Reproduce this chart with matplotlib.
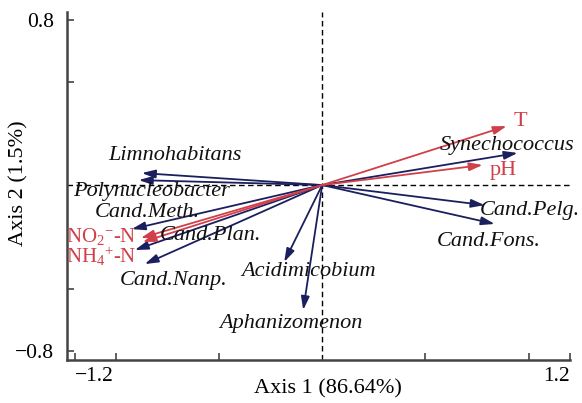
import matplotlib.pyplot as plt
import numpy as np

plt.rcParams['font.family'] = ['Liberation Serif', 'DejaVu Serif']
plt.rcParams['mathtext.fontset'] = 'custom'
plt.rcParams['mathtext.rm'] = 'Liberation Serif'
plt.rcParams['mathtext.it'] = 'Liberation Serif:italic'

# species scores (axis 1, axis 2)
species = ['Synechococcus', 'Cand.Pelg.', 'Cand.Fons.', 'Limnohabitans',
           'Polynucleobacter', 'Cand.Meth.', 'Cand.Plan.', 'Cand.Nanp.',
           'Acidimicobium', 'Aphanizomenon']
sp_x = [0.947, 0.787, 0.836, -0.874, -0.889, -0.923, -0.908, -0.860, -0.184, -0.092]
sp_y = [0.155, -0.097, -0.188, 0.058, 0.024, -0.213, -0.314, -0.382, -0.372, -0.604]

# environmental factors
env = ['T', 'pH', 'NO$_2$$^{-}$-N', 'NH$_4$$^{+}$-N']
env_x = [0.894, 0.778, -0.879, -0.870]
env_y = [0.285, 0.097, -0.256, -0.275]

# label positions (centre of text)
sp_lab = {'Synechococcus': (0.894, 0.193), 'Cand.Pelg.': (1.005, -0.121),
          'Cand.Fons.': (0.807, -0.275), 'Limnohabitans': (-0.715, 0.145),
          'Polynucleobacter': (-0.826, -0.029), 'Cand.Meth.': (-0.845, -0.135),
          'Cand.Plan.': (-0.541, -0.246), 'Cand.Nanp.': (-0.720, -0.459),
          'Acidimicobium': (-0.068, -0.420), 'Aphanizomenon': (-0.150, -0.667)}
env_lab = [(0.961, 0.309), (0.879, 0.072), (-1.072, -0.248), (-1.072, -0.346)]
env_fs = [16, 16, 15, 15]

navy = '#1b1f5e'
red = '#d0404a'

fig = plt.figure(figsize=(5.82, 4.03), dpi=100)
ax = fig.add_axes([0.115, 0.107, 0.864, 0.863])
ax.set_xlim(-1.237, 1.195)
ax.set_ylim(-0.845, 0.836)

ax.axhline(0, color='black', linestyle='--', linewidth=1, dashes=(4, 2.5), zorder=1)
ax.axvline(0, color='black', linestyle='--', linewidth=1, dashes=(4, 2.5), zorder=1)

def arrow(x, y, c):
    ax.annotate('', xy=(x, y), xytext=(0, 0),
                arrowprops=dict(arrowstyle='-|>,head_length=0.8,head_width=0.25',
                                color=c, lw=1.3, shrinkA=0, shrinkB=0),
                zorder=3)

for name, x, y in zip(species, sp_x, sp_y):
    arrow(x, y, navy)
    lx, ly = sp_lab[name]
    ax.text(lx, ly, name, style='italic', fontsize=16, ha='center', va='center',
            color='#111111', zorder=4)

for (name, x, y), (lx, ly), fs in zip(zip(env, env_x, env_y), env_lab, env_fs):
    arrow(x, y, red)
    ax.text(lx, ly, name, fontsize=fs, ha='center', va='center', color=red, zorder=4)

for s in ['top', 'right']:
    ax.spines[s].set_visible(False)
for s in ['left', 'bottom']:
    ax.spines[s].set_color('#444444')
    ax.spines[s].set_linewidth(1.8)

ax.set_xticks([-1.2, 1.2])
ax.set_xticklabels(['\u22121.2', '1.2'])
ax.set_xticks([-1.0, -0.5, 0.5, 1.0], minor=True)
ax.set_yticks([-0.8, 0.8])
ax.set_yticklabels(['\u22120.8', '0.8'])
ax.set_yticks([-0.5, 0.5], minor=True)
ax.tick_params(which='both', direction='in', length=5, width=1.2, color='#444444',
               labelsize=15.5)
ax.tick_params(axis='y', pad=9)
ax.tick_params(axis='x', pad=5)
lbls = ax.get_xticklabels()
lbls[0].set_ha('left')
lbls[1].set_ha('right')

ax.set_xlabel('Axis 1 (86.64%)', fontsize=16)
ax.set_ylabel('Axis 2 (1.5%)', fontsize=16)
ax.xaxis.set_label_coords((328 - 67) / 503, -(379 - 360) / 348)
ax.yaxis.set_label_coords(-(67 - 29) / 503, (360 - 183) / 348)

fig.savefig('out.png', dpi=100)
